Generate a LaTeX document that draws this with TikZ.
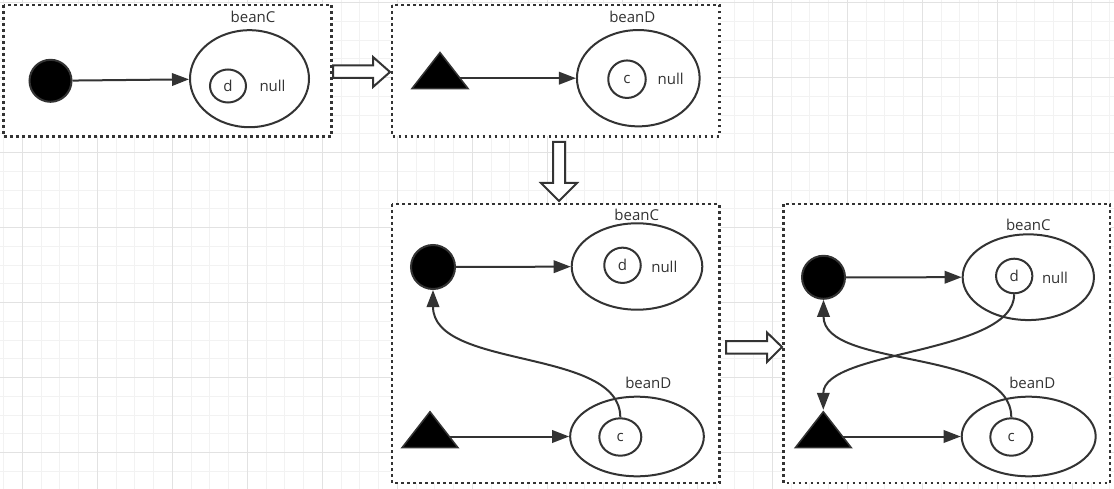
\documentclass[tikz,border=0pt]{standalone}
\usepackage{fontspec}
\setmainfont{Open Sans}
\usepackage{xcolor}
\usepackage{tikz}
\usetikzlibrary{arrows.meta, shapes.geometric}

\definecolor{ink}{HTML}{333333}
\definecolor{gridminor}{HTML}{F2F2F2}
\definecolor{gridmajor}{HTML}{E2E2E2}

\tikzset{
  panel/.style={draw=ink, fill=white, line width=2.6pt, dash pattern=on 2.6pt off 3.4pt},
  bean/.style={ellipse, draw=ink, line width=2pt, inner sep=0pt},
  fld/.style={ellipse, draw=ink, line width=2pt, inner sep=0pt, text=ink, font=\fontsize{15}{18}\selectfont},
  txt/.style={text=ink, inner sep=0pt, font=\fontsize{15}{18}\selectfont},
  obj/.style={circle, draw=ink, fill=black, line width=2pt, inner sep=0pt},
  tri/.style={isosceles triangle, isosceles triangle stretches, shape border rotate=90,
    draw=ink, fill=black, line width=1.5pt, inner sep=0pt, anchor=south,
    minimum width=56pt, minimum height=36pt},
  link/.style={draw=ink, line width=2pt},
  hollow/.style={draw=ink, fill=white, line width=2pt, line join=miter},
}

\begin{document}
\begin{tikzpicture}[x=1pt, y=-1pt, >={Triangle[length=17pt, width=12.5pt]}]
    \useasboundingbox (0,0) rectangle (1114,489);
    % 1. Background grid
    \fill[white] (0,0) rectangle (1114,489);
    \foreach \i in {0,...,59}
        \draw[gridminor, line width=1pt] ({3.55+18.75*\i},0) -- ++(0,489);
    \foreach \j in {0,...,26}
        \draw[gridminor, line width=1pt] (0,{2.7+18.75*\j}) -- ++(1114,0);
    \foreach \i in {0,...,14}
        \draw[gridmajor, line width=1pt] ({22.3+75*\i},0) -- ++(0,489);
    \foreach \j in {0,...,6}
        \draw[gridmajor, line width=1pt] (0,{2.7+75*\j}) -- ++(1114,0);

    % 2. Dotted frames
    \draw[panel] (3.5,5) rectangle (331.5,136.5);
    \draw[panel] (392,5) rectangle (719.5,136.5);
    \draw[panel] (392,204) rectangle (719.5,483);
    \draw[panel] (783.5,204) rectangle (1110,483);

    % 3. Hollow arrows between frames
    \draw[hollow] (333,65.5) -- (373,65.5) -- (373,57) -- (390,72) -- (373,87) -- (373,78) -- (333,78) -- cycle;
    \draw[hollow] (553,142) -- (565,142) -- (565,183) -- (577,183) -- (559,201) -- (541,183) -- (553,183) -- cycle;
    \draw[hollow] (726,341) -- (767,341) -- (767,332.5) -- (782,347) -- (767,362) -- (767,353.5) -- (726,353.5) -- cycle;

    % 4. Frame 1: beanC
    \node[obj, minimum size=42pt] (K1) at (50.5,80.8) {};
    \node[bean, minimum width=119pt, minimum height=97pt] (C1) at (249.5,78.7) {};
    \node[fld, minimum width=36pt, minimum height=33pt] (d1) at (228,86) {d};
    \node[txt] (n1) at (272.5,86) {null};
    \node[txt] (lC1) at (253,17) {beanC};
    \draw[link, ->] (K1) -- (C1);

    % 5. Frame 2: beanD
    \node[tri] (t2) at (440,89.3) {};
    \node[bean, minimum width=122.7pt, minimum height=96.3pt] (D2) at (638.3,78.2) {};
    \node[fld, minimum width=37.5pt, minimum height=37.5pt] (c2) at (627,79.2) {c};
    \node[txt] (n2) at (670.7,79) {null};
    \node[txt] (lD2) at (632.3,17.3) {beanD};
    \draw[link, ->] (t2.east |- D2.west) -- (D2.west);

    % 6. Frame 3: beanD.c refers to beanC
    \node[obj, minimum size=44pt] (K3) at (433,267) {};
    \node[bean, minimum width=130.6pt, minimum height=86.4pt] (C3) at (637,266.5) {};
    \node[fld, minimum width=36.5pt, minimum height=35.3pt] (d3) at (622.5,265.3) {d};
    \node[txt] (n3) at (664.3,266.5) {null};
    \node[txt] (lC3) at (636.7,215) {beanC};
    \node[tri] (t3) at (430,448.5) {};
    \node[bean, minimum width=133.7pt, minimum height=79.6pt] (D3) at (637,436.5) {};
    \node[fld, minimum width=42pt, minimum height=37.4pt] (c3) at (620.3,437) {c};
    \node[txt] (lD3) at (648.3,383.3) {beanD};
    \draw[link, ->] (K3) -- (C3);
    \draw[link, ->] (t3.east |- D3.west) -- (D3.west);
    \draw[link, ->] (c3.north) .. controls +(0,-70) and +(0,80) .. (K3.south);

    % 7. Frame 4: both fields set
    \node[obj, minimum size=43pt] (K4) at (823.5,277.3) {};
    \node[bean, minimum width=131.3pt, minimum height=85.7pt] (C4) at (1028.3,277.2) {};
    \node[fld, minimum width=36.3pt, minimum height=34.6pt] (d4) at (1014.2,276) {d};
    \node[txt] (n4) at (1055,278) {null};
    \node[txt] (lC4) at (1028.3,225) {beanC};
    \node[tri] (t4) at (823.3,448.5) {};
    \node[bean, minimum width=134pt, minimum height=79.6pt] (D4) at (1028.7,436.5) {};
    \node[fld, minimum width=42pt, minimum height=37.4pt] (c4) at (1011.3,437) {c};
    \node[txt] (lD4) at (1032.3,383.3) {beanD};
    \draw[link, ->] (K4) -- (C4);
    \draw[link, ->] (t4.east |- D4.west) -- (D4.west);
    \draw[link, ->] (c4.north) .. controls +(0,-70) and +(0,70) .. (K4.south);
    \draw[link, ->] (d4.south) .. controls +(0,60) and +(0,-60) .. (t4.north);
\end{tikzpicture}
\end{document}
